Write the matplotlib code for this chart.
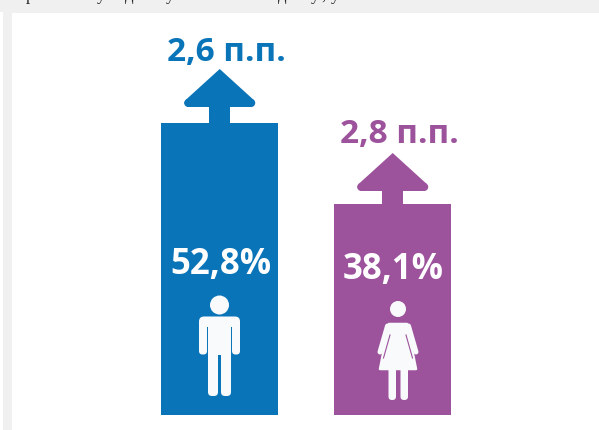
import matplotlib
matplotlib.use('Agg')
from matplotlib import pyplot as plt
from matplotlib.patches import Circle, FancyBboxPatch, Polygon, Rectangle

W, H = 599, 431
BASE_Y = 416
PX_PER_PCT = 5.53

shares = [52.8, 38.1]
share_labels = ['52,8%', '38,1%']
change_labels = ['2,6 п.п.', '2,8 п.п.']
colors = ['#0a74b9', '#9c539c']
bar_lefts = [161, 334]
BAR_W = 117
ICON = '#f8fafc'

# only the descenders of the line above the panel are visible
top_glyphs = ['р', 'у', 'д', 'у', 'д', 'у', ',', 'у']
top_glyph_x = [30, 101, 129, 170, 282, 315, 323, 335]

fig = plt.figure(figsize=(W / 100, H / 100), dpi=100, facecolor='#f0f0f0')
ax = fig.add_axes([0, 0, 1, 1])
ax.set_xlim(0, W)
ax.set_ylim(H, 0)
ax.axis('off')

ax.add_patch(Rectangle((0, 13), 3, H, fc='white', ec='none'))
ax.add_patch(Rectangle((12, 14), W - 12, H - 13, fc='white', ec='none'))

for g, x in zip(top_glyphs, top_glyph_x):
    ax.text(x, 0, g, family='Liberation Serif', fontsize=12, color='#222222',
            ha='center', va='baseline', clip_on=True)

# bars grow up from the base line, so height is negative in this flipped axis
bar_heights = [-s * PX_PER_PCT for s in shares]
ax.bar(bar_lefts, bar_heights, width=BAR_W, bottom=BASE_Y, align='edge', color=colors)


def arrow(cx, top, bar_top, color):
    pts = [(cx, top), (cx + 34.1, top + 31), (cx + 35.5, top + 34), (cx + 31.5, top + 38),
           (cx - 31.5, top + 38), (cx - 35.5, top + 34), (cx - 34.1, top + 31)]
    ax.add_patch(Polygon(pts, fc=color, ec='none'))
    ax.add_patch(Circle((cx + 31.5, top + 34), 4, fc=color, ec='none'))
    ax.add_patch(Circle((cx - 31.5, top + 34), 4, fc=color, ec='none'))
    ax.add_patch(Rectangle((cx - 10.5, top + 37), 21, bar_top - top - 36, fc=color, ec='none'))


def rounded(x0, y0, x1, y1, r, color=ICON):
    ax.add_patch(FancyBboxPatch((x0 + r, y0 + r), x1 - x0 - 2 * r, y1 - y0 - 2 * r,
                                boxstyle=f'round,pad={r},rounding_size={r}',
                                fc=color, ec='none'))


def man(cx, color):
    ax.add_patch(Circle((cx, 306), 9.5, fc=ICON, ec='none'))
    rounded(cx - 20.5, 317.5, cx + 20.5, 341, 5)
    rounded(cx - 20.5, 326, cx - 12.5, 355.5, 3.5)
    rounded(cx + 12.5, 326, cx + 20.5, 355.5, 3.5)
    ax.add_patch(Rectangle((cx - 12.5, 328), 1, 28, fc=color, ec='none'))
    ax.add_patch(Rectangle((cx + 11.5, 328), 1, 28, fc=color, ec='none'))
    ax.add_patch(Rectangle((cx - 11.5, 331), 23, 25, fc=ICON, ec='none'))
    rounded(cx - 11.5, 346, cx - 1.5, 397, 4)
    rounded(cx + 1.5, 346, cx + 11.5, 397, 4)
    ax.add_patch(Rectangle((cx - 1.5, 346), 3, 8, fc=ICON, ec='none'))


def woman(cx, color):
    ax.add_patch(Circle((cx, 310), 8, fc=ICON, ec='none'))
    dress = [(cx - 9, 325), (cx + 9, 325), (cx + 18, 370), (cx - 18, 370)]
    ax.add_patch(Polygon(dress, fc=ICON, ec=ICON, lw=1.8, joinstyle='round'))
    for side in (-1, 1):
        ax.plot([cx + side * 10.5, cx + side * 18], [327, 353], color=ICON, lw=3.6,
                solid_capstyle='round')
        ax.plot([cx + side * 8, cx + side * 14.5], [336, 359], color=color, lw=0.8)
    rounded(cx - 9.5, 363, cx - 2, 401, 3.5)
    rounded(cx + 2.5, 363, cx + 10, 401, 3.5)


arrow(219.7, 70, 124, colors[0])
arrow(392.7, 154, 205, colors[1])
man(219.5, colors[0])
woman(398, colors[1])

bold = dict(family='Open Sans', fontweight='bold', ha='center', va='baseline')
ax.text(226, 61, change_labels[0], color=colors[0], fontsize=24, **bold)
ax.text(399, 143, change_labels[1], color=colors[1], fontsize=24, **bold)
ax.text(221, 274, share_labels[0], color='white', fontsize=25, **bold)
ax.text(393, 279, share_labels[1], color='white', fontsize=25, **bold)

fig.savefig('out.png', dpi=100, facecolor=fig.get_facecolor())
